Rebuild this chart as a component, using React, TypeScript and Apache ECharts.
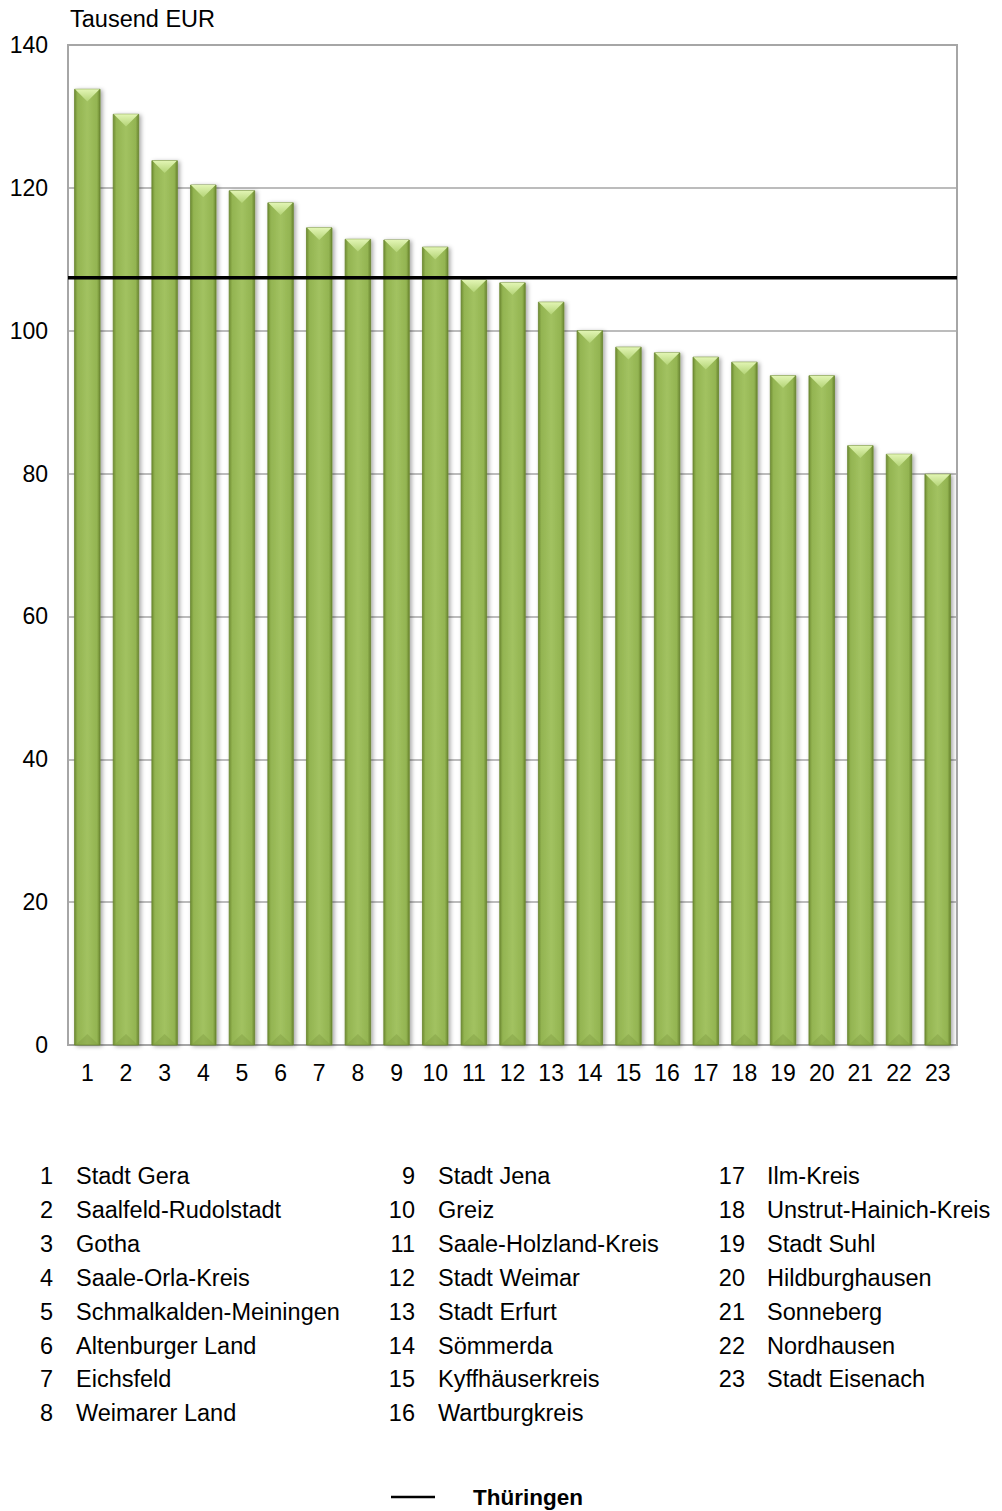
import React, { useEffect, useRef } from "react";
import * as echarts from "echarts";

const categories = ["1","2","3","4","5","6","7","8","9","10","11","12","13","14","15","16","17","18","19","20","21","22","23"];
const values = [133.8,130.3,123.8,120.4,119.6,117.9,114.4,112.8,112.7,111.7,107.1,106.7,104.0,100.0,97.7,96.9,96.3,95.6,93.7,93.7,83.9,82.7,79.9];
const thueringen = 107.4;
const districtNames = [
  "Stadt Gera","Saalfeld-Rudolstadt","Gotha","Saale-Orla-Kreis","Schmalkalden-Meiningen","Altenburger Land","Eichsfeld","Weimarer Land",
  "Stadt Jena","Greiz","Saale-Holzland-Kreis","Stadt Weimar","Stadt Erfurt","Sömmerda","Kyffhäuserkreis","Wartburgkreis",
  "Ilm-Kreis","Unstrut-Hainich-Kreis","Stadt Suhl","Hildburghausen","Sonneberg","Nordhausen","Stadt Eisenach",
];
const yTitle = "Tausend EUR";
const lineName = "Thüringen";

const FONT = "'Liberation Sans', Arial, sans-serif";

export default function App() {
  const ref = useRef<HTMLDivElement>(null);
  useEffect(() => {
    document.body.style.margin = "0";
    const chart = echarts.init(ref.current!, null, { renderer: "svg" });

    const colNumRight = [53, 415, 745];
    const colNameLeft = [76, 438, 767];
    const rowY0 = 1176;
    const rowStep = 33.9;
    const legendTexts: any[] = [];
    districtNames.forEach((name, i) => {
      const col = Math.floor(i / 8);
      const row = i % 8;
      const y = rowY0 + row * rowStep;
      legendTexts.push({
        type: "text", x: colNumRight[col], y,
        style: { text: categories[i], font: `23.5px ${FONT}`, fill: "#000", align: "right", verticalAlign: "middle" },
      });
      legendTexts.push({
        type: "text", x: colNameLeft[col], y,
        style: { text: name, font: `23.5px ${FONT}`, fill: "#000", align: "left", verticalAlign: "middle" },
      });
    });

    const option: any = {
      animation: false,
      grid: { left: 68, right: 45, top: 45, bottom: 466, show: true, borderColor: "#a6a6a6", borderWidth: 2, backgroundColor: "transparent" },
      xAxis: [
        {
          type: "category", data: categories,
          axisLine: { show: true, lineStyle: { color: "#a6a6a6", width: 2 } },
          axisTick: { show: false },
          axisLabel: { color: "#000", fontSize: 23, fontFamily: FONT, margin: 16, interval: 0 },
          splitLine: { show: false },
        },
        { type: "value", min: 0, max: 1, show: false },
      ],
      yAxis: {
        type: "value", min: 0, max: 140, interval: 20,
        axisLine: { show: true, lineStyle: { color: "#a6a6a6", width: 2 } },
        axisTick: { show: false },
        axisLabel: { color: "#000", fontSize: 23, fontFamily: FONT, margin: 20 },
        splitLine: { show: true, lineStyle: { color: "#a6a6a6", width: 1.5 } },
      },
      series: [
        {
          type: "custom",
          xAxisIndex: 0,
          encode: { x: 0, y: 1 },
          data: values.map((v, i) => [i, v]),
          z: 2,
          renderItem: (params: any, api: any) => {
            const idx = api.value(0);
            const v = api.value(1);
            const top = api.coord([idx, v]);
            const base = api.coord([idx, 0]);
            const w = api.size([1, 0])[0] * 0.66;
            const x0 = top[0] - w / 2;
            const h = base[1] - top[1];
            const bev = w * 0.48;
            return {
              type: "group",
              children: [
                {
                  type: "rect",
                  shape: { x: x0, y: top[1], width: w, height: h },
                  style: {
                    fill: new echarts.graphic.LinearGradient(0, 0, 1, 0, [
                      { offset: 0, color: "#6f8c33" },
                      { offset: 0.12, color: "#93b451" },
                      { offset: 0.5, color: "#a2c261" },
                      { offset: 0.88, color: "#93b451" },
                      { offset: 1, color: "#6a8630" },
                    ]),
                    stroke: "#6a8630",
                    lineWidth: 0.8,
                    shadowBlur: 4,
                    shadowOffsetX: 2,
                    shadowOffsetY: 1,
                    shadowColor: "rgba(0,0,0,0.35)",
                  },
                },
                {
                  type: "polygon",
                  shape: { points: [[x0 + 0.5, top[1]], [x0 + w - 0.5, top[1]], [top[0], top[1] + bev]] },
                  style: {
                    fill: new echarts.graphic.LinearGradient(0, 0, 0, 1, [
                      { offset: 0, color: "#e2f5b4" },
                      { offset: 1, color: "#b4d477" },
                    ]),
                  },
                },
                {
                  type: "polygon",
                  shape: { points: [[x0 + 1, base[1]], [x0 + w - 1, base[1]], [top[0], base[1] - bev * 0.9]] },
                  style: { fill: "rgba(120,150,60,0.35)" },
                },
              ],
            };
          },
        },
        {
          name: lineName,
          type: "line",
          xAxisIndex: 1,
          data: [[0, thueringen], [1, thueringen]],
          symbol: "none",
          lineStyle: { color: "#000", width: 3.5 },
          z: 5,
        },
      ],
      graphic: [
        { type: "text", x: 70, y: 19, style: { text: yTitle, font: `23.5px ${FONT}`, fill: "#000", align: "left", verticalAlign: "middle" } },
        ...legendTexts,
        { type: "line", shape: { x1: 391, y1: 1497, x2: 435, y2: 1497 }, style: { stroke: "#000", lineWidth: 2.5 } },
        { type: "text", x: 473, y: 1497, style: { text: lineName, font: `bold 22.5px ${FONT}`, fill: "#000", align: "left", verticalAlign: "middle" } },
      ],
    };
    chart.setOption(option);
    return () => chart.dispose();
  }, []);
  return <div ref={ref} style={{ width: 1002, height: 1511 }} />;
}
